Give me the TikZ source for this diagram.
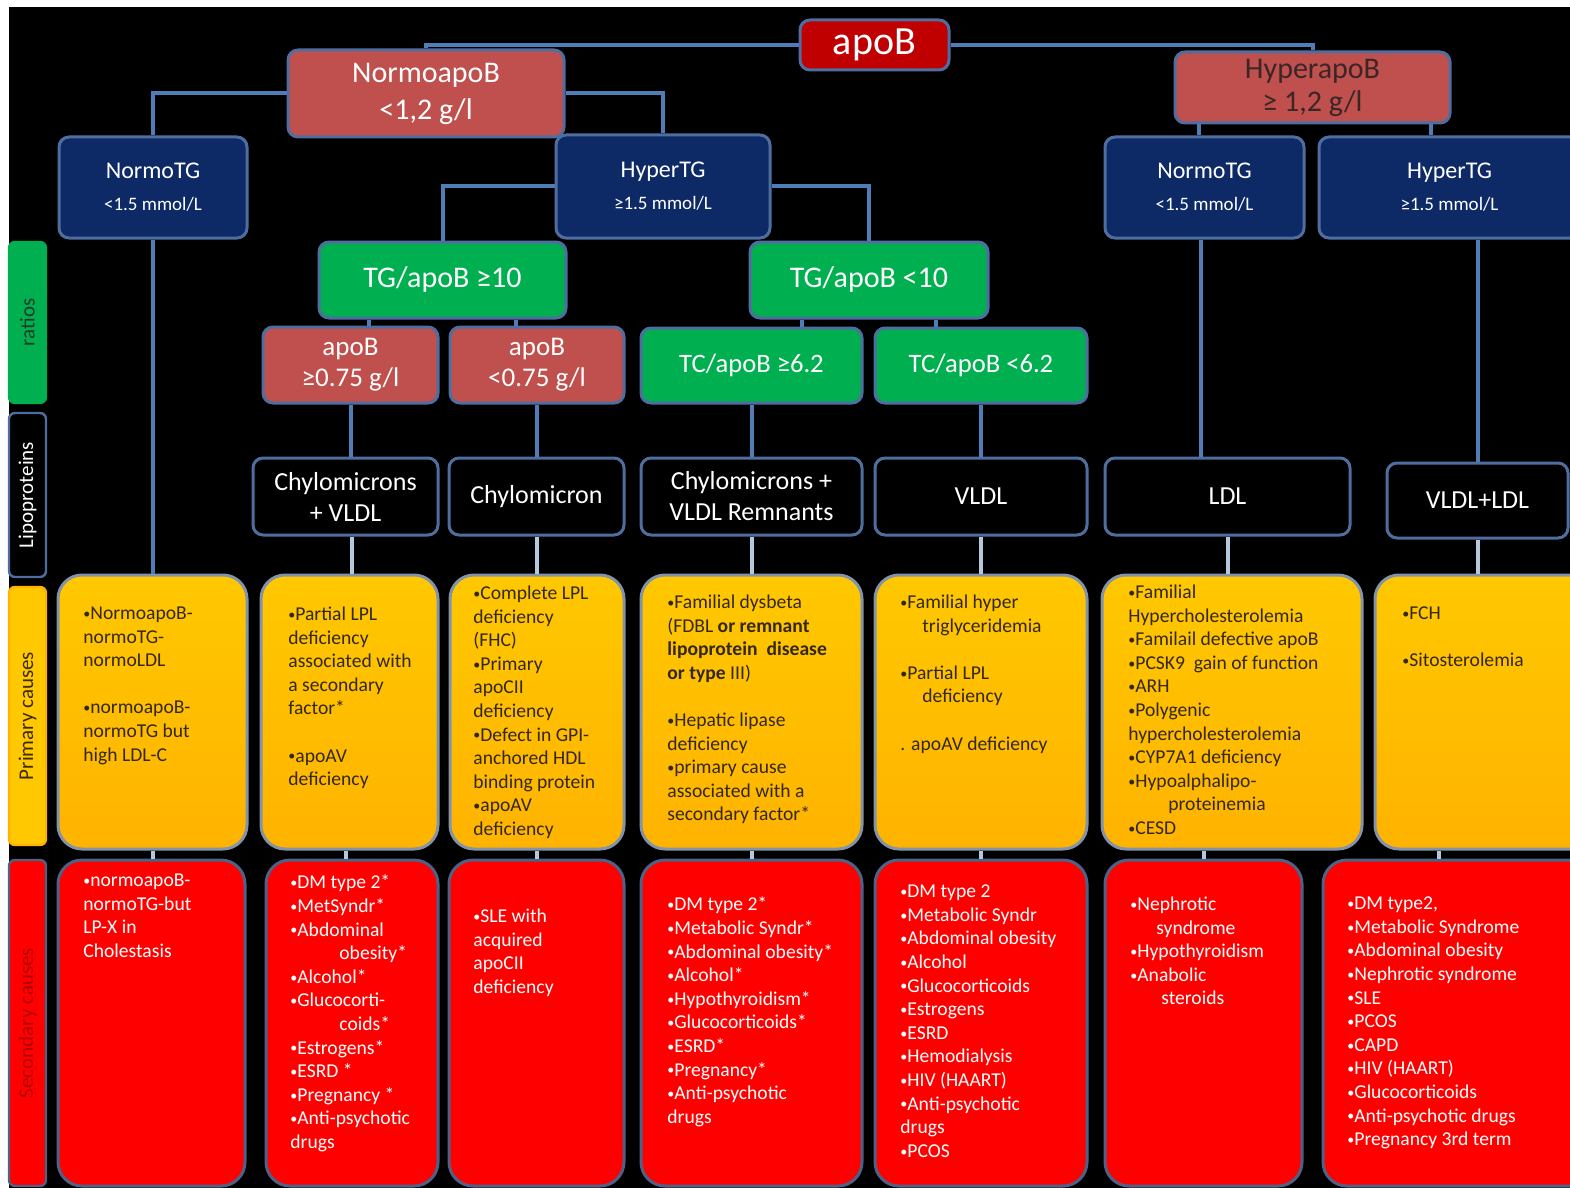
\documentclass[tikz,border=0pt]{standalone}
\usepackage{fontspec}
\setmainfont{Carlito}
\definecolor{navyc}{HTML}{0E2A66}
\definecolor{bordc}{HTML}{4F6E9F}
\definecolor{connc}{HTML}{4F7DB8}
\definecolor{connl}{HTML}{B4C8DE}
\definecolor{dredc}{HTML}{C00000}
\definecolor{rosec}{HTML}{C0504D}
\definecolor{grnc}{HTML}{00B050}
\definecolor{yelT}{HTML}{FFC800}
\definecolor{yelB}{HTML}{FFB300}
\definecolor{yelbord}{HTML}{8494A8}
\definecolor{bredc}{HTML}{FF0000}
\definecolor{redbord}{HTML}{4E6288}
\definecolor{ptc}{HTML}{332818}
\definecolor{hyptxt}{HTML}{3A2626}
\definecolor{ratc}{HTML}{1F3D26}
\definecolor{primc}{HTML}{3D2B00}
\definecolor{secc}{HTML}{B00000}
\newcommand\mybox[7]{\node[#6, minimum width={(#4-#2)*0.5pt}, minimum height={(#5-#3)*0.5pt}] (#1) at ({(#2+#4)/2},{(#3+#5)/2}) {#7};}
\newcommand\bul{{\fontsize{7}{7}\selectfont\raisebox{0.6pt}{•}}}
\begin{document}
\begin{tikzpicture}[x=0.5pt,y=-0.5pt,
  cn/.style={draw=connc, line width=2pt},
  cl/.style={draw=connl, line width=2pt},
  bx/.style={draw=bordc, line width=1.5pt, rounded corners=5pt, inner sep=0pt, align=center, text=white},
  navyb/.style={bx, fill=navyc, font=\fontsize{12}{16}\selectfont},
  greenb/.style={bx, fill=grnc},
  roseb/.style={bx, fill=rosec},
  lipob/.style={bx, fill=black, font=\fontsize{13}{15.5}\selectfont},
  primb/.style={draw=yelbord, line width=1.5pt, rounded corners=12pt, top color=yelT, bottom color=yelB},
  secb/.style={draw=redbord, line width=1.5pt, rounded corners=12pt, fill=bredc},
  sideb/.style={draw=bordc, line width=1.2pt, rounded corners=3pt},
  sidet/.style={rotate=90, inner sep=0pt, font=\fontsize{10.5}{12}\selectfont},
  ptxt/.style={anchor=north west, inner sep=0pt, align=left, font=\fontsize{9.8}{11.8}\selectfont, text=ptc},
  stxt/.style={ptxt, text=white}
]
\useasboundingbox (0,0) rectangle (1570,1188);
\fill[white] (0,0) rectangle (1570,1188);
\fill[black] (9,7) rectangle (1570,1188);
\clip (0,0) rectangle (1570,1188);

% top levels
\mybox{apoB}{800}{20}{949}{70}{bx, fill=dredc, font=\fontsize{20}{24}\selectfont}{apoB}
\mybox{normo}{288}{50}{564}{137}{roseb, font=\fontsize{15}{18.5}\selectfont}{NormoapoB\\<1,2 g/l}
\mybox{hyper}{1175}{52}{1450}{123}{roseb, text=hyptxt, font=\fontsize{15}{16.5}\selectfont}{HyperapoB\\≥ 1,2 g/l}
\mybox{ntg1}{59}{137}{247}{238}{navyb}{NormoTG\\{\fontsize{9.5}{15}\selectfont <1.5 mmol/L}}
\mybox{htg1}{556}{135}{770}{238}{navyb}{HyperTG\\{\fontsize{9.5}{15}\selectfont ≥1.5 mmol/L}}
\mybox{ntg2}{1105}{137}{1304}{238}{navyb}{NormoTG\\{\fontsize{9.5}{15}\selectfont <1.5 mmol/L}}
\mybox{htg2}{1319}{137}{1580}{238}{navyb}{HyperTG\\{\fontsize{9.5}{15}\selectfont ≥1.5 mmol/L}}

% ratios
\mybox{r10}{319}{242}{566}{318}{greenb, font=\fontsize{15}{18}\selectfont}{TG/apoB ≥10}
\mybox{rl10}{750}{242}{988}{318}{greenb, font=\fontsize{15}{18}\selectfont}{TG/apoB <10}
\mybox{ab1}{263}{327}{438}{403}{roseb, font=\fontsize{13.5}{15.5}\selectfont}{apoB\\≥0.75 g/l}
\mybox{ab2}{450}{327}{624}{403}{roseb, font=\fontsize{13.5}{15.5}\selectfont}{apoB\\<0.75 g/l}
\mybox{tc1}{641}{328}{862}{403}{greenb, font=\fontsize{13.3}{16}\selectfont}{TC/apoB ≥6.2}
\mybox{tc2}{875}{328}{1087}{403}{greenb, font=\fontsize{13.3}{16}\selectfont}{TC/apoB <6.2}

% lipoproteins
\mybox{lp1}{253}{458}{438}{535}{lipob}{Chylomicrons\\+ VLDL}
\mybox{lp2}{449}{458}{624}{535}{lipob}{Chylomicron}
\mybox{lp3}{641}{458}{862}{535}{lipob}{Chylomicrons +\\VLDL Remnants}
\mybox{lp4}{875}{458}{1087}{535}{lipob}{VLDL}
\mybox{lp5}{1105}{458}{1350}{535}{lipob}{LDL}
\mybox{lp6}{1387}{463}{1568}{538}{lipob}{VLDL+LDL}

% primary boxes
\mybox{p1}{58}{575}{247}{849}{primb}{}
\mybox{p2}{261}{575}{438}{849}{primb}{}
\mybox{p3}{450}{575}{624}{849}{primb}{}
\mybox{p4}{641}{575}{862}{849}{primb}{}
\mybox{p5}{875}{575}{1087}{849}{primb}{}
\mybox{p6}{1102}{575}{1362}{849}{primb}{}
\mybox{p7}{1375}{575}{1595}{849}{primb}{}

% secondary boxes
\mybox{s1}{58}{860}{245}{1186}{secb}{}
\mybox{s2}{266}{860}{438}{1186}{secb}{}
\mybox{s3}{449}{860}{624}{1186}{secb}{}
\mybox{s4}{641}{860}{862}{1186}{secb}{}
\mybox{s5}{875}{860}{1087}{1186}{secb}{}
\mybox{s6}{1105}{860}{1302}{1186}{secb}{}
\mybox{s7}{1323}{860}{1595}{1186}{secb}{}

% side labels
\mybox{lr}{9}{242}{46}{403}{sideb, draw=grnc, fill=grnc}{}
\node[sidet, text=ratc] (lrt) at (lr.center) {ratios};
\mybox{ll}{9}{413}{46}{577}{sideb, fill=black}{}
\node[sidet, text=white] (llt) at (ll.center) {Lipoproteins};
\mybox{lpc}{9}{587}{46}{845}{sideb, draw=yelB, fill=yelT}{}
\node[sidet, text=primc] (lpct) at (lpc.center) {Primary causes};
\mybox{lsc}{9}{860}{46}{1186}{sideb, draw=redbord, fill=bredc}{}
\node[sidet, text=secc] (lsct) at (lsc.center) {Secondary causes};

% connectors (upper)
\draw[cn] (apoB.west) -| (normo.north);
\draw[cn] (apoB.east) -| (hyper.north);
\draw[cn] (normo.west) -| (ntg1.north);
\draw[cn] (normo.east) -| (htg1.north);
\draw[cn] (htg1.west) -| (r10.north);
\draw[cn] (htg1.east) -| (rl10.north);
\draw[cn] ([xshift=-3pt]ntg2.north) -- ([xshift=-3pt]ntg2.north |- hyper.south);
\draw[cn] ([xshift=-9.5pt]htg2.north) -- ([xshift=-9.5pt]htg2.north |- hyper.south);
\draw[cn] ([xshift=9pt]ab1.north) -- ([xshift=9pt]ab1.north |- r10.south);
\draw[cn] ([xshift=-10.5pt]ab2.north) -- ([xshift=-10.5pt]ab2.north |- r10.south);
\draw[cn] ([xshift=25pt]tc1.north) -- ([xshift=25pt]tc1.north |- rl10.south);
\draw[cn] ([xshift=-22.5pt]tc2.north) -- ([xshift=-22.5pt]tc2.north |- rl10.south);
\draw[cn] (ab1.south) -- (ab1.south |- lp1.north);
\draw[cn] (ab2.south) -- (ab2.south |- lp2.north);
\draw[cn] (tc1.south) -- (tc1.south |- lp3.north);
\draw[cn] (tc2.south) -- (tc2.south |- lp4.north);
\draw[cn] (ntg1.south) -- (ntg1.south |- p1.north);
\draw[cn] ([xshift=-2pt]ntg2.south) -- ([xshift=-2pt]ntg2.south |- lp5.north);
\draw[cn] (lp6.north) -- (lp6.north |- htg2.south);

% connectors (lower)
\draw[cl] ([xshift=3pt]lp1.south) -- ([xshift=3pt]lp1.south |- p2.north);
\draw[cl] (lp2.south) -- (lp2.south |- p3.north);
\draw[cl] (lp3.south) -- (lp3.south |- p4.north);
\draw[cl] (lp4.south) -- (lp4.south |- p5.north);
\draw[cl] (lp5.south) -- (lp5.south |- p6.north);
\draw[cl] (lp6.south) -- (lp6.south |- p7.north);
\draw[cl] (p1.south) -- (p1.south |- s1.north);
\draw[cl] ([xshift=-3pt]s2.north) -- ([xshift=-3pt]s2.north |- p2.south);
\draw[cl] (s3.north) -- (s3.north |- p3.south);
\draw[cl] (s4.north) -- (s4.north |- p4.south);
\draw[cl] (s5.north) -- (s5.north |- p5.south);
\draw[cl] (s6.north) -- (s6.north |- p6.south);
\draw[cl] ([xshift=-10pt]s7.north) -- ([xshift=-10pt]s7.north |- p7.south);

% primary texts
\node[ptxt] (pt1) at (83,606.5) {\bul NormoapoB-\\normoTG-\\normoLDL\\[11.8pt]\bul normoapoB-\\normoTG but\\high LDL-C};
\node[ptxt] (pt2) at (288,606.5) {\bul Partial LPL\\deficiency\\associated with\\a secondary\\factor*\\[11.8pt]\bul apoAV\\deficiency};
\node[ptxt] (pt3) at (473,585.5) {\bul Complete LPL\\deficiency\\(FHC)\\\bul Primary\\apoCII\\deficiency\\\bul Defect in GPI-\\anchored HDL\\binding protein\\\bul apoAV\\deficiency};
\node[ptxt] (pt4) at (667,594.5) {\bul Familial dysbeta\\(FDBL \textbf{or remnant}\\\textbf{lipoprotein\ \ disease}\\\textbf{or type} III)\\[11.8pt]\bul Hepatic lipase\\deficiency\\\bul primary cause\\associated with a\\secondary factor*};
\node[ptxt] (pt5) at (900,594.5) {\bul Familial hyper\\\hspace*{11pt}triglyceridemia\\[11.8pt]\bul Partial LPL\\\hspace*{11pt}deficiency\\[11.8pt]. apoAV deficiency};
\node[ptxt] (pt6) at (1128,584.5) {\bul Familial\\Hypercholesterolemia\\\bul Familail defective apoB\\\bul PCSK9\ \ gain of function\\\bul ARH\\\bul Polygenic\\hypercholesterolemia\\\bul CYP7A1 deficiency\\\bul Hypoalphalipo-\\\hspace*{20pt}proteinemia\\\bul CESD};
\node[ptxt] (pt7) at (1402,606.5) {\bul FCH\\[11.8pt]\bul Sitosterolemia};

% secondary texts
\node[stxt] (st1) at (83,873.5) {\bul normoapoB-\\normoTG-but\\LP-X in\\Cholestasis};
\node[stxt] (st2) at (290,874.5) {\bul DM type 2*\\\bul MetSyndr*\\\bul Abdominal\\\hspace*{24.5pt}obesity*\\\bul Alcohol*\\\bul Glucocorti-\\\hspace*{24.5pt}coids*\\\bul Estrogens*\\\bul ESRD *\\\bul Pregnancy *\\\bul Anti-psychotic\\drugs};
\node[stxt] (st3) at (473,908.5) {\bul SLE with\\acquired\\apoCII\\deficiency};
\node[stxt] (st4) at (667,896.5) {\bul DM type 2*\\\bul Metabolic Syndr*\\\bul Abdominal obesity*\\\bul Alcohol*\\\bul Hypothyroidism*\\\bul Glucocorticoids*\\\bul ESRD*\\\bul Pregnancy*\\\bul Anti-psychotic\\drugs};
\node[stxt] (st5) at (900,884.5) {\bul DM type 2\\\bul Metabolic Syndr\\\bul Abdominal obesity\\\bul Alcohol\\\bul Glucocorticoids\\\bul Estrogens\\\bul ESRD\\\bul Hemodialysis\\\bul HIV (HAART)\\\bul Anti-psychotic\\drugs\\\bul PCOS};
\node[stxt] (st6) at (1130,896.5) {\bul Nephrotic\\\hspace*{13pt}syndrome\\\bul Hypothyroidism\\\bul Anabolic\\\hspace*{15.5pt}steroids};
\node[stxt] (st7) at (1347,896.5) {\bul DM type2,\\\bul Metabolic Syndrome\\\bul Abdominal obesity\\\bul Nephrotic syndrome\\\bul SLE\\\bul PCOS\\\bul CAPD\\\bul HIV (HAART)\\\bul Glucocorticoids\\\bul Anti-psychotic drugs\\\bul Pregnancy 3rd term};
\end{tikzpicture}
\end{document}
